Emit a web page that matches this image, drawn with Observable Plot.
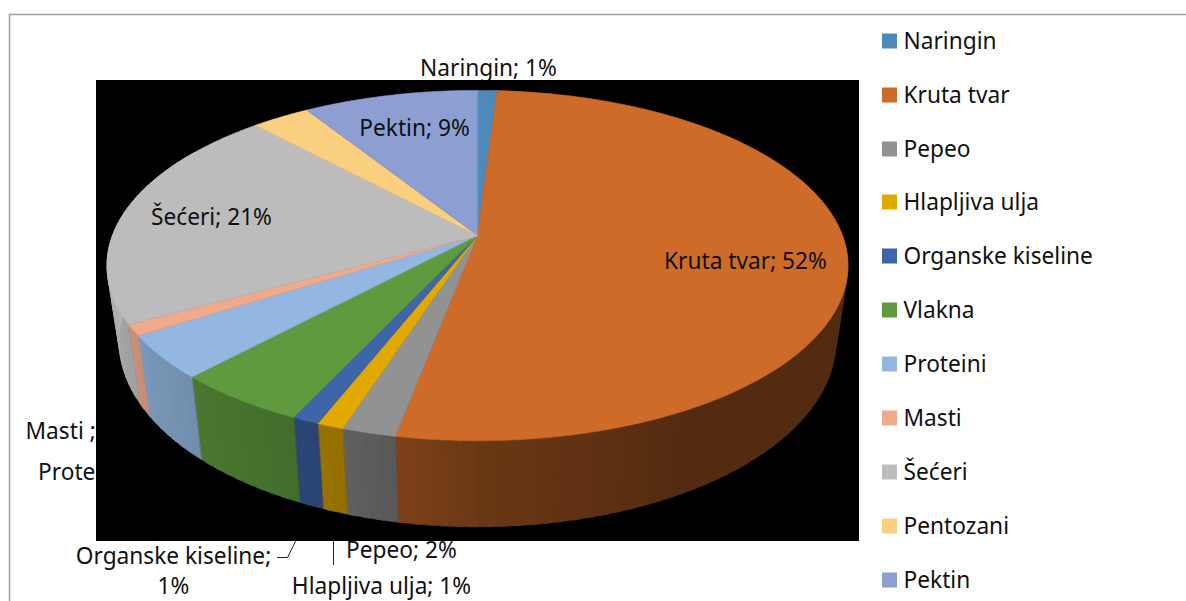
<!DOCTYPE html>
<html>
<head>
<meta charset="utf-8">
<script src="https://cdn.jsdelivr.net/npm/d3@7"></script>
<script src="https://cdn.jsdelivr.net/npm/@observablehq/plot@0.6"></script>
<style>html,body{margin:0;padding:0;background:#fff;overflow:hidden}svg{display:block}</style>
</head>
<body>
<div id="chart"></div>
<script>
const categories = ["Naringin","Kruta tvar","Pepeo","Hlapljiva ulja","Organske kiseline","Vlakna","Proteini","Masti","Šećeri","Pentozani","Pektin"];
const shares = [1,52,2,1,1,5,4,1,21,3,9];
const colours = ["#4e89bc","#ce6b28","#929292","#e1a900","#3e64aa","#609a3f","#93b7e0","#f0aa8b","#bcbcbc","#fbcf80","#8d9fd2"];

const outsideLabels = [
  {text:"Naringin; 1%", x:488, y:68},
  {text:"Masti ; 1%", x:79, y:431},
  {text:"Proteini; 4%", x:101, y:472},
  {text:"Organske kiseline;", x:173, y:556},
  {text:"1%", x:173, y:586.5},
  {text:"Pepeo; 2%", x:401, y:550},
  {text:"Hlapljiva ulja; 1%", x:381, y:586.5}
];
const insideLabels = [
  {text:"Pektin; 9%", x:414, y:128},
  {text:"Šećeri; 21%", x:211, y:217},
  {text:"Kruta tvar; 52%", x:745, y:261}
];
const legendRows = [41,95,149,202,256,310,364,418,472,526,580];
const leaders = [
  {id:"a", x:333, y:541},{id:"a", x:333, y:564},
  {id:"b", x:295, y:541},{id:"b", x:287, y:557},{id:"b", x:277, y:557}
];

// perspective view of the disc: top face and bottom face
const top3d = {x0:477, y0:235, R:365, S:170, k:0.1714};
const bottom3d = {x0:477, y0:309, R:353, S:180, k:0.1714};
const project = (deg, f, r = 1) => {
  const t = deg * Math.PI / 180, u = r * Math.sin(t), v = r * Math.cos(t), w = 1 + f.k * v;
  return {x: f.x0 + f.R * u / w, y: f.y0 - f.S * v / w};
};
const total = d3.sum(shares);
const cum = d3.cumsum(shares);
const slices = categories.map((c, i) => ({c, colour: colours[i], a0: (cum[i] - shares[i]) / total * 360, a1: cum[i] / total * 360}));

const arc = (a0, a1) => { const n = Math.max(1, Math.ceil((a1 - a0) / 0.5)); return d3.range(n + 1).map(i => a0 + (a1 - a0) * i / n); };

const topPoly = slices.flatMap(s => {
  const pts = [{...project(0, top3d, 0)}, ...arc(s.a0, s.a1).map(a => project(a, top3d))];
  return pts.map(p => ({...p, id: s.c, colour: s.colour}));
});

const shade = d3.scaleLinear().domain([60,150,180,190,205,240,270,300]).range([.40,.40,.52,.60,.70,.84,.96,1]).clamp(true);
// each strip runs on under the next one, so no dark seams appear between them
const wallPoly = slices.flatMap(s => {
  const out = [];
  const step = 2;
  for (let b0 = Math.max(s.a0, 70); b0 < Math.min(s.a1, 300); b0 += step) {
    const b1 = Math.min(b0 + step, s.a1);
    const c = d3.rgb(s.colour), f = shade((b0 + b1) / 2);
    const colour = d3.rgb(c.r * f, c.g * f, c.b * f).formatHex();
    const seg = arc(b0, Math.min(b1 + (b1 < s.a1 ? 1 : 0), s.a1));
    [...seg.map(x => project(x, top3d)), ...seg.slice().reverse().map(x => project(x, bottom3d))]
      .forEach(p => out.push({...p, id: s.c + b0, colour}));
  }
  return out;
});

const font = "'Noto Sans', sans-serif";
const fs = 22.7;
const legend = categories.map((c, i) => ({c, colour: colours[i], y: legendRows[i]}));

const plot = Plot.plot({
  width: 1186, height: 601, margin: 0,
  x: {domain: [0, 1186], range: [0, 1186], axis: null},
  y: {domain: [0, 601], range: [0, 601], axis: null},
  color: {type: "identity"},
  style: {background: "#fff", fontFamily: font},
  marks: [
    Plot.ruleY([14], {x1: 9, x2: 1186, stroke: "#a0a0a0", strokeWidth: 1.5}),
    Plot.ruleX([9], {y1: 14, y2: 601, stroke: "#a0a0a0", strokeWidth: 1.5}),
    Plot.text(outsideLabels, {x: "x", y: "y", text: "text", fontSize: fs, fill: "#111", textAnchor: "middle"}),
    Plot.line(leaders, {x: "x", y: "y", z: "id", stroke: "#222", strokeWidth: 1}),
    Plot.rect([0], {x1: () => 96, x2: () => 859, y1: () => 80, y2: () => 541, fill: "#000"}),
    Plot.line(wallPoly, {x: "x", y: "y", z: "id", fill: "colour", stroke: "colour", strokeWidth: .6, curve: "linear-closed"}),
    Plot.line(topPoly, {x: "x", y: "y", z: "id", fill: "colour", stroke: "colour", strokeWidth: .6, curve: "linear-closed"}),
    Plot.text(insideLabels, {x: "x", y: "y", text: "text", fontSize: fs, fill: "#111", textAnchor: "middle"}),
    Plot.rect(legend, {x1: () => 882, x2: () => 897, y1: d => d.y - 7.5, y2: d => d.y + 7.5, fill: "colour"}),
    Plot.text(legend, {x: () => 903, y: "y", text: "c", fontSize: fs, fill: "#111", textAnchor: "start"})
  ]
});
document.getElementById("chart").append(plot);
</script>
</body>
</html>
